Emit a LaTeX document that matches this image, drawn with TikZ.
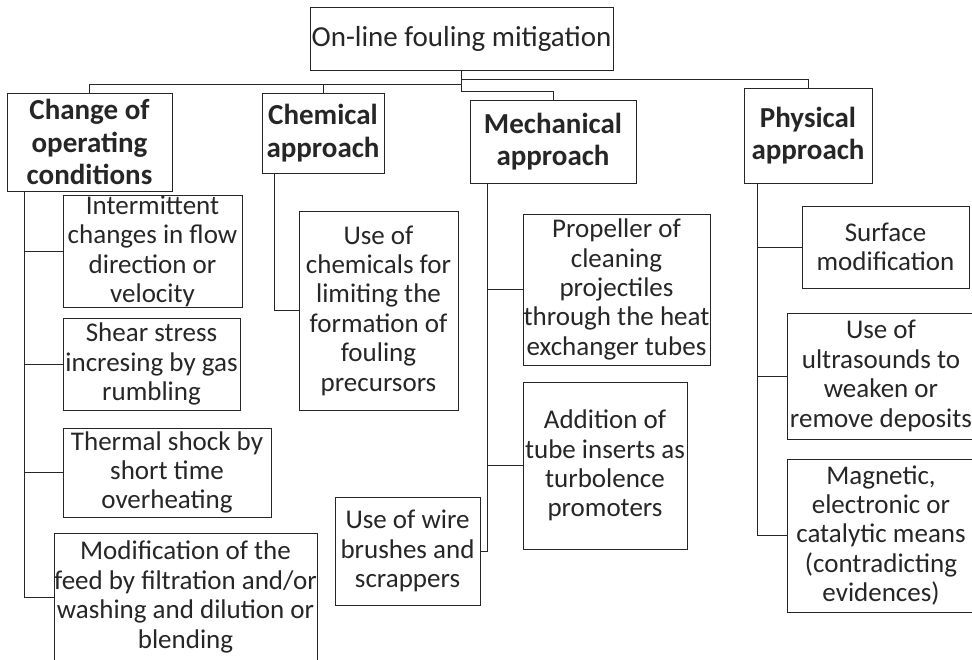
\documentclass[tikz,border=0pt]{standalone}
\usepackage{fontspec}
\setmainfont{Carlito}
\usetikzlibrary{positioning}
\tikzset{
	box/.style={draw=black!85,line width=0.9pt,rectangle,align=center,inner sep=0pt,text=black!85},
	rootbox/.style={box,font=\fontsize{29}{32}\selectfont},
	headbox/.style={box,font=\fontsize{29}{32.5}\selectfont\bfseries},
	itembox/.style={box,font=\fontsize{27}{29.4}\selectfont},
	link/.style={draw=black!85,line width=0.9pt}
}

\begin{document}
\begin{tikzpicture}[x=1pt,y=-1pt]
            \useasboundingbox (0,0) rectangle (972,660);
            \node[rootbox,minimum width=303pt,minimum height=63pt] (root) at (461.5,38.5) {On-line fouling mitigation};
            \node[headbox,minimum width=165pt,minimum height=98pt] (change) at (89.5,142) {Change of\\operating\\conditions};
            \node[headbox,minimum width=122pt,minimum height=80pt] (chem) at (323,133) {Chemical\\approach};
            \node[headbox,minimum width=166pt,minimum height=83pt] (mech) at (553,141.5) {Mechanical\\approach};
            \node[headbox,minimum width=128pt,minimum height=95pt] (phys) at (808,135.5) {Physical\\approach};
            \node[itembox,minimum width=179pt,minimum height=111pt] (inter) at (152.5,251.5) {Intermittent\\changes in flow\\direction or\\velocity};
            \node[itembox,minimum width=177pt,minimum height=92pt] (shear) at (151.5,364) {Shear stress\\incresing by gas\\rumbling};
            \node[itembox,minimum width=208pt,minimum height=89pt] (thermal) at (167,472.5) {Thermal shock by\\short time\\overheating};
            \node[itembox,minimum width=263pt,minimum height=128pt] (feed) at (185.5,597) {Modification of the\\feed by filtration and/or\\washing and dilution or\\blending};
            \node[itembox,minimum width=159pt,minimum height=199pt] (chemuse) at (378.5,310.5) {Use of\\chemicals for\\limiting the\\formation of\\fouling\\precursors};
            \node[itembox,minimum width=145pt,minimum height=108pt] (wire) at (407.5,551) {Use of wire\\brushes and\\scrappers};
            \node[itembox,minimum width=187pt,minimum height=151pt] (prop) at (616.5,289.5) {Propeller of\\cleaning\\projectiles\\through the heat\\exchanger tubes};
            \node[itembox,minimum width=164pt,minimum height=167pt] (insert) at (605,465.5) {Addition of\\tube inserts as\\turbolence\\promoters};
            \node[itembox,minimum width=167pt,minimum height=82pt] (surf) at (885.5,247) {Surface\\modification};
            \node[itembox,minimum width=188pt,minimum height=126pt] (ultra) at (881,376) {Use of\\ultrasounds to\\weaken or\\remove deposits};
            \node[itembox,minimum width=188pt,minimum height=153pt] (magn) at (881,535.5) {Magnetic,\\electronic or\\catalytic means\\(contradicting\\evidences)};
            \coordinate (cstem) at (24,191);
            \coordinate (chstem) at (274,173);
            \coordinate (mstem) at (487,183);
            \coordinate (pstem) at (757,183);
            \draw[link] (root.south) -- ++(0,14) -| (change.north);
            \draw[link] (root.south) ++(0,14) -| (chem.north);
            \draw[link] (root.south) -- ++(0,21) -| (mech.north);
            \draw[link] (root.south) -- ++(0,9) -| (phys.north);
            \draw[link] (cstem) |- (feed.west);
            \draw[link] (cstem |- inter.west) -- (inter.west);
            \draw[link] (cstem |- shear.west) -- (shear.west);
            \draw[link] (cstem |- thermal.west) -- (thermal.west);
            \draw[link] (chstem) |- (chemuse.west);
            \draw[link] (mstem) |- (wire.east);
            \draw[link] (mstem |- prop.west) -- (prop.west);
            \draw[link] (mstem |- insert.west) -- (insert.west);
            \draw[link] (pstem) |- (magn.west);
            \draw[link] (pstem |- surf.west) -- (surf.west);
            \draw[link] (pstem |- ultra.west) -- (ultra.west);
        \end{tikzpicture}
\end{document}
